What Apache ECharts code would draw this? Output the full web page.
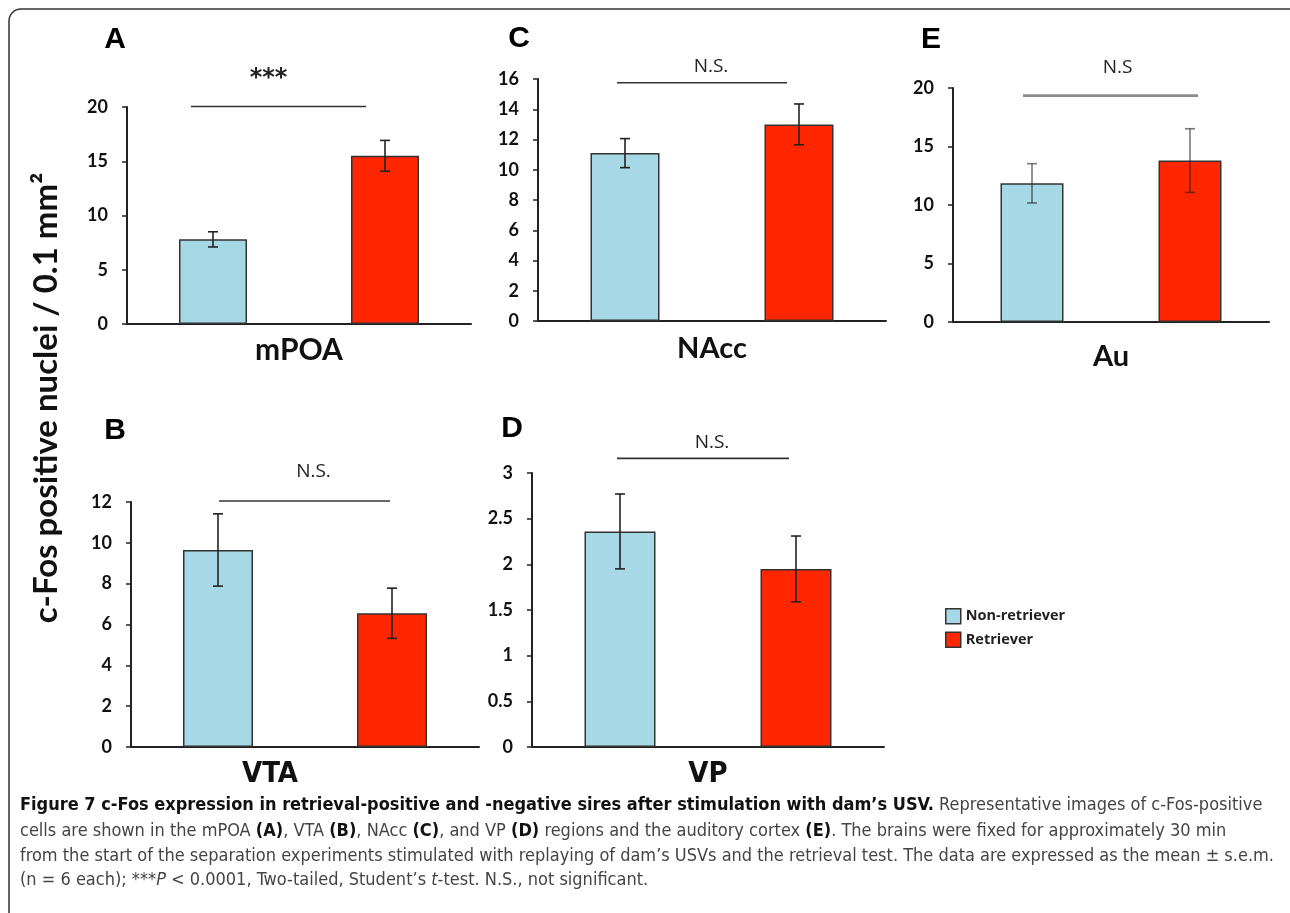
<!DOCTYPE html>
<html>
<head>
<meta charset="utf-8">
<script src="https://cdn.jsdelivr.net/npm/echarts@6/dist/echarts.min.js"></script>
<style>html,body{margin:0;padding:0;background:#fff;}#chart{width:1290px;height:913px;}</style>
</head>
<body>
<div id="chart"></div>
<script>
// ---- data (panels in order A, B, C, D, E) ----
const categories = ['Non-retriever', 'Retriever'];
const panelLetters = ['A', 'B', 'C', 'D', 'E'];
const regionNames = ['mPOA', 'VTA', 'NAcc', 'VP', 'Au'];
const nonRetrieverMean = [7.8, 9.65, 11.1, 2.36, 11.85];
const nonRetrieverSem  = [0.7, 1.77, 0.96, 0.41, 1.68];
const retrieverMean    = [15.5, 6.55, 13.0, 1.95, 13.8];
const retrieverSem     = [1.42, 1.23, 1.35, 0.36, 2.72];
const sigLabels = ['***', 'N.S.', 'N.S.', 'N.S.', 'N.S'];
const sigLevels = [20.05, 12.05, 15.75, 3.16, 19.35];
const yMax      = [20, 12, 16, 3, 20];
const yInterval = [5, 2, 2, 0.5, 5];
const yAxisTitle = 'c-Fos positive nuclei / 0.1 mm²';
const captionLines = [
  '{b|Figure 7 c-Fos expression in retrieval-positive and -negative sires after stimulation with dam’s USV.} Representative images of c-Fos-positive',
  'cells are shown in the mPOA {b|(A)}, VTA {b|(B)}, NAcc {b|(C)}, and VP {b|(D)} regions and the auditory cortex {b|(E)}. The brains were fixed for approximately 30 min',
  'from the start of the separation experiments stimulated with replaying of dam’s USVs and the retrieval test. The data are expressed as the mean ± s.e.m.',
  '(n = 6 each); ***{i|P} < 0.0001, Two-tailed, Student’s {i|t}-test. N.S., not significant.'
];

// ---- layout / style ----
const grids = [
  {left: 127, top: 107, width: 344, height: 217},
  {left: 131, top: 502, width: 348, height: 245},
  {left: 538, top: 79,  width: 348, height: 242},
  {left: 532, top: 473, width: 352, height: 274},
  {left: 953, top: 88,  width: 316, height: 234}
];
const barWidths = [68, 70, 69, 71, 63];
const nameGaps = [11, 13, 13, 13, 20];
const namePads = [[0,0,0,0],[0,70,0,0],[0,0,0,0],[0,0,0,0],[0,0,0,0]];
const narrow = "'Liberation Sans Narrow', 'DejaVu Sans Condensed', sans-serif";
const nameFonts = [
  {fontFamily: 'Lato', fontWeight: 'bold', fontSize: 30},
  {fontFamily: narrow, fontWeight: 'bold', fontSize: 29},
  {fontFamily: 'Lato', fontWeight: 'bold', fontSize: 29},
  {fontFamily: narrow, fontWeight: 'bold', fontSize: 29},
  {fontFamily: 'Lato', fontWeight: 'bold', fontSize: 29}
];
const sigDx = [[-22, -19], [1, -2], [-8, -12], [-3, -7], [-9, 8]];
const sigTextDy = [28, 29, 16, 16, 28];
const sigTextDx = [-10, 9, 9, 9, 7];
const sigColors = ['#333', '#333', '#333', '#333', '#8a8a8a'];
const sigWidths = [1.6, 1.6, 1.6, 1.6, 2.6];
const errColors = ['#222', '#222', '#222', '#222', 'rgba(30,30,30,0.6)'];
const letterPos = [[115, 40], [115, 431], [519, 39], [512, 429], [931, 40]];
const blue = '#a6d8e5';
const red = '#ff2600';

const chart = echarts.init(document.getElementById('chart'), null, {renderer: 'canvas'});

const xAxes = [], yAxes = [], series = [];
for (let i = 0; i < 5; i++) {
  xAxes.push({
    type: 'category', gridIndex: i, data: categories,
    axisLine: {lineStyle: {color: '#222', width: 2}},
    axisTick: {show: false}, axisLabel: {show: false},
    name: regionNames[i], nameLocation: 'middle', nameGap: nameGaps[i],
    nameTextStyle: Object.assign({color: '#111', padding: namePads[i]}, nameFonts[i])
  });
  yAxes.push({
    type: 'value', gridIndex: i, min: 0, max: yMax[i], interval: yInterval[i],
    axisLine: {show: true, lineStyle: {color: '#222', width: 2}},
    axisTick: {show: true, length: 5, lineStyle: {color: '#222', width: 1.5}},
    splitLine: {show: false},
    axisLabel: {margin: 19, color: '#111', fontFamily: 'Lato', fontWeight: 'bold', fontSize: 18}
  });
  series.push({
    type: 'bar', name: categories[0], xAxisIndex: i, yAxisIndex: i,
    data: [nonRetrieverMean[i], '-'], barWidth: barWidths[i], barGap: '-100%',
    itemStyle: {color: blue, borderColor: '#333', borderWidth: 1.5}, silent: true
  });
  series.push({
    type: 'bar', name: categories[1], xAxisIndex: i, yAxisIndex: i,
    data: ['-', retrieverMean[i]], barWidth: barWidths[i], barGap: '-100%',
    itemStyle: {color: red, borderColor: '#333', borderWidth: 1.5}, silent: true
  });
  const errData = [
    [0, nonRetrieverMean[i] - nonRetrieverSem[i], nonRetrieverMean[i] + nonRetrieverSem[i]],
    [1, retrieverMean[i] - retrieverSem[i], retrieverMean[i] + retrieverSem[i]]
  ];
  series.push({
    type: 'custom', xAxisIndex: i, yAxisIndex: i, data: errData, z: 10, silent: true,
    renderItem: (function (idx) {
      return function (params, api) {
        const lo = api.coord([api.value(0), api.value(1)]);
        const hi = api.coord([api.value(0), api.value(2)]);
        const c = 5;
        const st = {stroke: errColors[idx], lineWidth: 1.6};
        return {type: 'group', children: [
          {type: 'line', shape: {x1: hi[0], y1: hi[1], x2: lo[0], y2: lo[1]}, style: st},
          {type: 'line', shape: {x1: hi[0] - c, y1: hi[1], x2: hi[0] + c, y2: hi[1]}, style: st},
          {type: 'line', shape: {x1: lo[0] - c, y1: lo[1], x2: lo[0] + c, y2: lo[1]}, style: st}
        ]};
      };
    })(i)
  });
  series.push({
    type: 'custom', xAxisIndex: i, yAxisIndex: i, data: [[0, 1, sigLevels[i]]], z: 10, silent: true,
    clip: false,
    renderItem: (function (idx) {
      return function (params, api) {
        const p0 = api.coord([api.value(0), api.value(2)]);
        const p1 = api.coord([api.value(1), api.value(2)]);
        const x0 = p0[0] + sigDx[idx][0], x1 = p1[0] + sigDx[idx][1];
        const isStar = sigLabels[idx] === '***';
        return {type: 'group', children: [
          {type: 'line', shape: {x1: x0, y1: p0[1], x2: x1, y2: p0[1]},
           style: {stroke: sigColors[idx], lineWidth: sigWidths[idx]}},
          {type: 'text', style: {
            x: (x0 + x1) / 2 + sigTextDx[idx], y: p0[1] - sigTextDy[idx],
            text: sigLabels[idx], align: 'center', verticalAlign: 'middle',
            fill: '#222',
            font: isStar ? "bold 24px 'DejaVu Sans', sans-serif" : "19px 'Open Sans', sans-serif"
          }}
        ]};
      };
    })(i)
  });
}

const graphics = [
  {type: 'rect', shape: {x: 9, y: 9, width: 1300, height: 1000, r: 12},
   style: {fill: 'none', stroke: '#333', lineWidth: 1.5}, silent: true},
  {type: 'text', x: 46, y: 398, rotation: Math.PI / 2,
   style: {text: yAxisTitle, align: 'center', verticalAlign: 'middle', fill: '#111',
           font: "bold 33px Lato, sans-serif"}, silent: true}
];
for (let i = 0; i < 5; i++) {
  graphics.push({type: 'text', x: letterPos[i][0], y: letterPos[i][1],
    style: {text: panelLetters[i], align: 'center', verticalAlign: 'middle', fill: '#000',
            font: "bold 30px 'Liberation Sans', Arial, sans-serif"}, silent: true});
}
const capY = [805, 831, 856, 880];
for (let k = 0; k < captionLines.length; k++) {
  graphics.push({type: 'text', x: 20, y: capY[k],
    style: {text: captionLines[k], align: 'left', verticalAlign: 'middle', fill: '#444',
      font: "18px " + narrow,
      rich: {
        b: {fontWeight: 'bold', fill: '#111', fontSize: 18, fontFamily: narrow},
        i: {fontStyle: 'italic', fill: '#444', fontSize: 18, fontFamily: narrow}
      }}, silent: true});
}

chart.setOption({
  animation: false,
  backgroundColor: '#fff',
  grid: grids.map(g => Object.assign({containLabel: false}, g)),
  xAxis: xAxes,
  yAxis: yAxes,
  legend: {
    data: [
      {name: categories[0], itemStyle: {color: blue, borderColor: '#333', borderWidth: 1.5}},
      {name: categories[1], itemStyle: {color: red, borderColor: '#333', borderWidth: 1.5}}
    ],
    orient: 'vertical', left: 940, top: 603, icon: 'rect',
    itemWidth: 15, itemHeight: 15, itemGap: 7, selectedMode: false,
    textStyle: {color: '#222', fontFamily: "'Open Sans', sans-serif", fontWeight: 'bold', fontSize: 14.5}
  },
  series: series,
  graphic: graphics
});
</script>
</body>
</html>
